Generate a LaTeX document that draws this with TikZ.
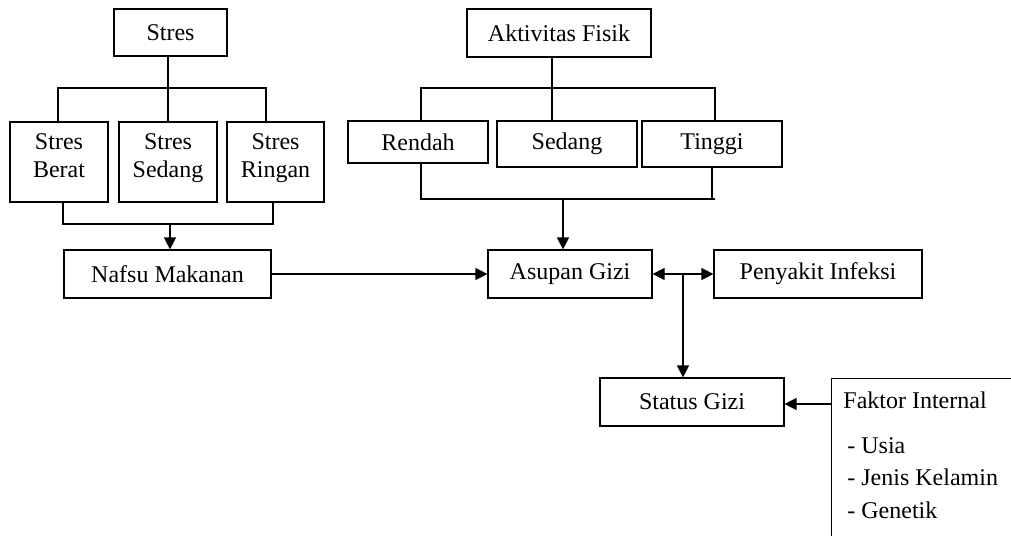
\documentclass[tikz,border=0pt]{standalone}
\usepackage{fontspec}
\setmainfont{Liberation Serif}
\usetikzlibrary{arrows.meta,positioning}
\tikzset{box/.style={draw, line width=.6pt, align=center, inner sep=2pt},
  link/.style={line width=.6pt},
  arr/.style={line width=.6pt, -{Triangle[length=6pt,width=6pt]}}}

\begin{document}
\begin{tikzpicture}[x=.5pt, y=-.5pt, font=\fontsize{12pt}{14pt}\selectfont]
    \useasboundingbox (0,0) rectangle (1011,535);
    \node[box, minimum width=56.5pt, minimum height=23.5pt] (stres) at (170.5,32.5) {Stres};
    \node[box, minimum width=49pt, minimum height=40pt] (berat) at (59,162) {Stres\\Berat\rule[-6pt]{0pt}{0pt}};
    \node[box, minimum width=49pt, minimum height=40pt] (sedang) at (168,162) {Stres\\Sedang\rule[-6pt]{0pt}{0pt}};
    \node[box, minimum width=48.5pt, minimum height=40pt] (ringan) at (275.5,162) {Stres\\Ringan\rule[-6pt]{0pt}{0pt}};
    \node[box, minimum width=103.5pt, minimum height=24pt] (nafsu) at (167.5,274) {Nafsu Makanan};
    \node[box, minimum width=92pt, minimum height=24pt] (aktivitas) at (559,33) {Aktivitas Fisik};
    \node[box, minimum width=70pt, minimum height=21pt] (rendah) at (418,142) {Rendah};
    \node[box, minimum width=70pt, minimum height=23pt] (sedangfisik) at (567,144) {Sedang};
    \node[box, minimum width=70pt, minimum height=23pt] (tinggi) at (712,144) {Tinggi};
    \node[box, minimum width=82pt, minimum height=24pt] (asupan) at (570,274) {Asupan Gizi};
    \node[box, minimum width=104pt, minimum height=24pt] (penyakit) at (818,274) {Penyakit Infeksi};
    \node[box, minimum width=92pt, minimum height=24pt] (status) at (692,402) {Status Gizi};
    \node[box, anchor=north west, minimum width=110pt, minimum height=110pt] (faktor) at (831,378) {};
    \node[anchor=base west, inner sep=0pt] (fjudul) at (843,408) {Faktor Internal};
    \node[anchor=base west, inner sep=0pt] (fusia) at (847,453) {- Usia};
    \node[anchor=base west, inner sep=0pt] (fjenis) at (847,485) {- Jenis Kelamin};
    \node[anchor=base west, inner sep=0pt] (fgen) at (847,518) {- Genetik};

    \coordinate (sL) at (58,88);
    \coordinate (sR) at (266,88);
    \coordinate (sM) at (168,88);
    \coordinate (bL) at (63,224);
    \coordinate (bR) at (273,224);
    \coordinate (bM) at (170,224);
    \draw[link] (sM |- stres.south) -- (sM) -- (sM |- sedang.north);
    \draw[link] (sL |- berat.north) -- (sL) -- (sR) -- (sR |- ringan.north);
    \draw[link] (bL |- berat.south) -- (bL) -- (bR) -- (bR |- ringan.south);
    \draw[arr] (bM) -- (bM |- nafsu.north);

    \coordinate (aL) at (421,88);
    \coordinate (aR) at (715,88);
    \coordinate (aM) at (552,88);
    \coordinate (cL) at (421,199);
    \coordinate (cR) at (712,199);
    \coordinate (cM) at (563,199);
    \draw[link] (aM |- aktivitas.south) -- (aM) -- (aM |- sedangfisik.north);
    \draw[link] (aL |- rendah.north) -- (aL) -- (aR) -- (aR |- tinggi.north);
    \draw[link] (cL |- rendah.south) -- (cL) -- (715,199);
    \draw[link] (cR |- tinggi.south) -- (cR);
    \draw[arr] (cM) -- (cM |- asupan.north);

    \draw[arr] (nafsu.east) -- (asupan.west);
    \coordinate (gj) at (683,274);
    \draw[arr] (gj) -- (asupan.east);
    \draw[arr] (gj) -- (penyakit.west);
    \draw[arr] (gj) -- (gj |- status.north);
    \coordinate (fa) at (831,404);
    \draw[arr] (fa) -- (fa -| status.east);
\end{tikzpicture}
\end{document}
